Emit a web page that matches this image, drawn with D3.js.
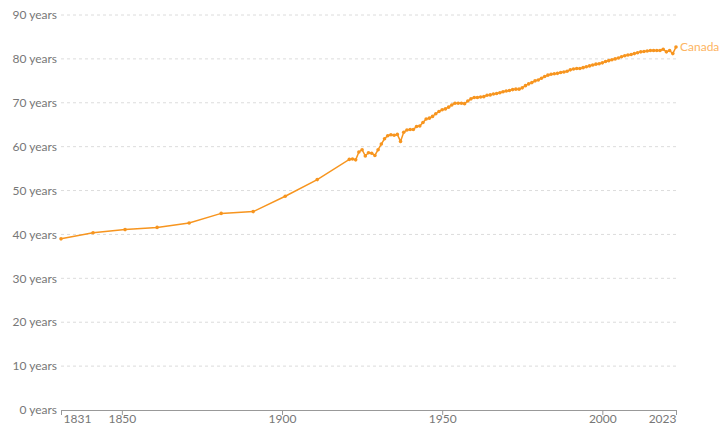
<!DOCTYPE html>
<html>
<head>
<meta charset="utf-8">
<script src="https://cdn.jsdelivr.net/npm/d3@7"></script>
<style>
  body { margin: 0; background: #fff; }
  svg text { font-family: Lato, "Noto Sans", sans-serif; }
</style>
</head>
<body>
<svg id="chart"></svg>
<script>
var width = 728, height = 427;
var margin = {top: 15, right: 52, bottom: 17, left: 61};

// life expectancy, Canada
var years = [1831, 1841, 1851, 1861, 1871, 1881, 1891, 1901, 1911,
  1921, 1922, 1923, 1924, 1925, 1926, 1927, 1928, 1929, 1930,
  1931, 1932, 1933, 1934, 1935, 1936, 1937, 1938, 1939, 1940,
  1941, 1942, 1943, 1944, 1945, 1946, 1947, 1948, 1949, 1950,
  1951, 1952, 1953, 1954, 1955, 1956, 1957, 1958, 1959, 1960,
  1961, 1962, 1963, 1964, 1965, 1966, 1967, 1968, 1969, 1970,
  1971, 1972, 1973, 1974, 1975, 1976, 1977, 1978, 1979, 1980,
  1981, 1982, 1983, 1984, 1985, 1986, 1987, 1988, 1989, 1990,
  1991, 1992, 1993, 1994, 1995, 1996, 1997, 1998, 1999, 2000,
  2001, 2002, 2003, 2004, 2005, 2006, 2007, 2008, 2009, 2010,
  2011, 2012, 2013, 2014, 2015, 2016, 2017, 2018, 2019, 2020,
  2021, 2022, 2023];
var lifeExp = [39.0, 40.4, 41.1, 41.6, 42.6, 44.8, 45.2, 48.7, 52.5,
  57.1, 57.2, 57.0, 58.8, 59.3, 57.9, 58.6, 58.5, 58.0, 59.3,
  60.6, 61.8, 62.5, 62.7, 62.6, 62.8, 61.2, 63.3, 63.8, 63.9,
  63.9, 64.6, 64.7, 65.5, 66.3, 66.5, 66.9, 67.5, 68.0, 68.4,
  68.6, 69.0, 69.5, 69.9, 69.9, 69.9, 69.8, 70.4, 70.9, 71.2,
  71.2, 71.3, 71.4, 71.7, 71.8, 72.0, 72.1, 72.3, 72.5, 72.7,
  72.8, 73.0, 73.1, 73.1, 73.4, 73.9, 74.3, 74.6, 75.0, 75.2,
  75.6, 76.0, 76.3, 76.5, 76.6, 76.7, 76.9, 77.0, 77.2, 77.5,
  77.7, 77.8, 77.8, 78.0, 78.2, 78.4, 78.6, 78.8, 78.9, 79.1,
  79.4, 79.6, 79.8, 80.0, 80.2, 80.5, 80.7, 80.9, 81.0, 81.2,
  81.4, 81.6, 81.7, 81.8, 81.9, 81.9, 81.9, 81.9, 82.2, 81.6,
  81.9, 81.2, 82.7];
var xTicks = [1831, 1850, 1900, 1950, 2000, 2023];
var yTicks = [0, 10, 20, 30, 40, 50, 60, 70, 80, 90];
var seriesName = "Canada";

var points = years.map(function(y, i) { return {year: y, value: lifeExp[i]}; });

var svg = d3.select("#chart")
    .attr("width", width)
    .attr("height", height);

var x = d3.scaleLinear()
    .domain([1831, 2023])
    .range([margin.left, width - margin.right]);

var y = d3.scaleLinear()
    .domain([0, 90])
    .range([height - margin.bottom, margin.top]);

// gridlines
svg.append("g")
  .selectAll("line")
  .data(yTicks.filter(function(d) { return d > 0; }))
  .enter().append("line")
    .attr("x1", x(1831))
    .attr("x2", x(2023))
    .attr("y1", function(d) { return y(d); })
    .attr("y2", function(d) { return y(d); })
    .attr("stroke", "#dcdcdc")
    .attr("stroke-dasharray", "3,3");

// y labels
svg.append("g")
  .selectAll("text")
  .data(yTicks)
  .enter().append("text")
    .attr("x", x(1831) - 4)
    .attr("y", function(d) { return y(d); })
    .attr("dy", "0.35em")
    .attr("text-anchor", "end")
    .attr("font-size", 12)
    .attr("fill", "#777")
    .text(function(d) { return d + " years"; });

// x axis
var xAxis = svg.append("g")
    .attr("transform", "translate(0," + y(0) + ")")
    .call(d3.axisBottom(x)
        .tickValues(xTicks)
        .tickFormat(d3.format("d"))
        .tickSizeOuter(0)
        .tickSize(5));
xAxis.select(".domain").attr("stroke", "#999");
xAxis.selectAll(".tick line").attr("stroke", "#999");
xAxis.selectAll(".tick text")
    .attr("font-family", "Lato, 'Noto Sans', sans-serif")
    .attr("font-size", 12)
    .attr("fill", "#777")
    .attr("y", 4)
    .attr("text-anchor", function(d) {
      if (d === 1831) return "start";
      if (d === 2023) return "end";
      return "middle";
    })
    .attr("dx", function(d) { return d === 1831 ? 2 : 0; });

// line
var line = d3.line()
    .x(function(d) { return x(d.year); })
    .y(function(d) { return y(d.value); });

svg.append("path")
    .datum(points)
    .attr("fill", "none")
    .attr("stroke", "#f7951f")
    .attr("stroke-width", 1.5)
    .attr("d", line);

svg.append("g")
  .selectAll("circle")
  .data(points)
  .enter().append("circle")
    .attr("cx", function(d) { return x(d.year); })
    .attr("cy", function(d) { return y(d.value); })
    .attr("r", 1.8)
    .attr("fill", "#f7951f");

// series label
var last = points[points.length - 1];
svg.append("text")
    .attr("x", x(last.year) + 4)
    .attr("y", y(last.value))
    .attr("dy", "0.35em")
    .attr("font-size", 12)
    .attr("fill", "#fdb462")
    .text(seriesName);
</script>
</body>
</html>
